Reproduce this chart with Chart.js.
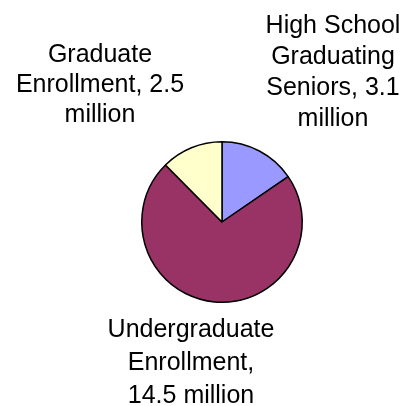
<!DOCTYPE html>
<html>
<head>
<meta charset="utf-8">
<script src="https://cdn.jsdelivr.net/npm/chart.js@4"></script>
<style>
html,body{margin:0;padding:0;background:#fff;}
#wrap{width:404px;height:406px;position:relative;}
</style>
</head>
<body>
<div id="wrap"><canvas id="c"></canvas></div>
<script>
const categories = ['High School Graduating Seniors', 'Undergraduate Enrollment', 'Graduate Enrollment'];
const values = [3.1, 14.5, 2.5];
const unit = 'million';
const colors = ['#9999FF', '#993366', '#FFFFCC'];

// label layout (offsets from pie centre, wrap widths, line spacing)
const labelLayout = [
  {dx: 111, dy: -189, wrap: 145, lh: 31},
  {dx: -31, dy: 115, wrap: 174, lh: 33},
  {dx: -122, dy: -160, wrap: 185, lh: 30}
];

function wrapText(ctx, text, maxW) {
  const words = text.split(' ');
  const lines = [];
  let cur = '';
  for (const w of words) {
    const t = cur ? cur + ' ' + w : w;
    if (ctx.measureText(t).width > maxW && cur) { lines.push(cur); cur = w; }
    else cur = t;
  }
  if (cur) lines.push(cur);
  return lines;
}

const labelPlugin = {
  id: 'outLabels',
  afterDraw(chart) {
    const ctx = chart.ctx;
    const meta = chart.getDatasetMeta(0);
    ctx.save();
    ctx.font = '25px "Liberation Sans", Arial, sans-serif';
    ctx.fillStyle = '#000';
    ctx.textAlign = 'center';
    ctx.textBaseline = 'alphabetic';
    meta.data.forEach((arc, i) => {
      const L = labelLayout[i];
      const text = categories[i] + ', ' + values[i] + ' ' + unit;
      const lines = wrapText(ctx, text, L.wrap);
      lines.forEach((ln, k) => {
        ctx.fillText(ln, arc.x + L.dx, arc.y + L.dy + k * L.lh);
      });
    });
    ctx.restore();
  }
};

new Chart(document.getElementById('c'), {
  type: 'pie',
  data: {
    labels: categories,
    datasets: [{
      data: values,
      backgroundColor: colors,
      borderColor: '#000',
      borderWidth: 1.5
    }]
  },
  options: {
    responsive: true,
    maintainAspectRatio: false,
    animation: false,
    layout: {padding: {left: 141, right: 101, top: 141, bottom: 103}},
    plugins: {legend: {display: false}, tooltip: {enabled: false}}
  },
  plugins: [labelPlugin]
});
</script>
</body>
</html>
